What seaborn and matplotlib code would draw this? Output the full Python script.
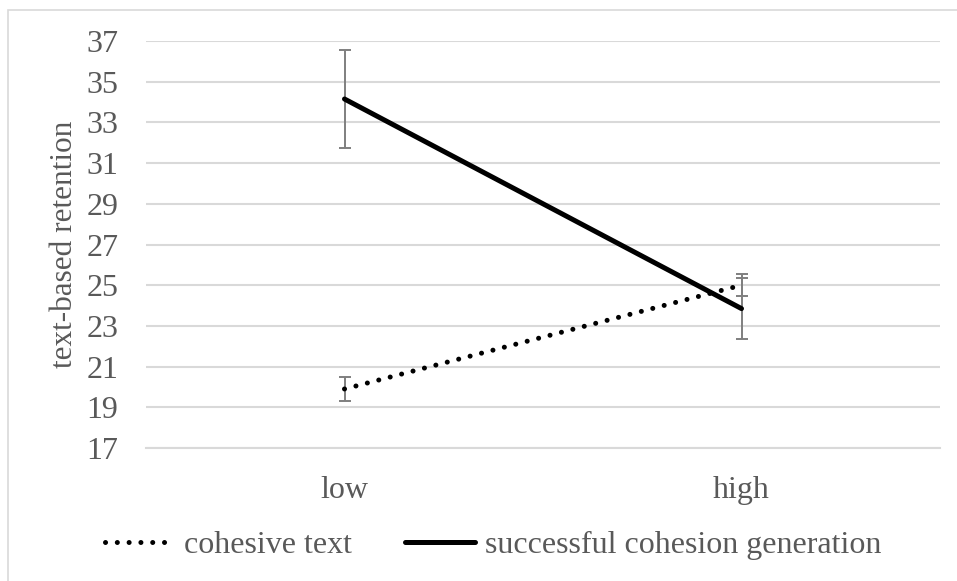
import numpy as np
import pandas as pd
import matplotlib
matplotlib.use("Agg")
import matplotlib.pyplot as plt
import seaborn as sns
from matplotlib.patches import Rectangle

# data
levels = ["low", "high"]
cohesive_mean = [19.9, 25.0]
cohesive_err = [0.6, 0.55]
generation_mean = [34.15, 23.85]
generation_err = [2.4, 1.5]
series_names = ["cohesive text", "successful cohesion generation"]
y_ticks = list(range(17, 38, 2))

TEXT = "#595959"
GRID = "#d9d9d9"
ERR = "#7f7f7f"

sns.set_theme(style="white")
plt.rcParams['font.family'] = ['Liberation Serif', 'DejaVu Serif']
plt.rcParams['font.size'] = 23

df = pd.DataFrame({
    "level": levels * 2,
    "value": cohesive_mean + generation_mean,
    "series": [series_names[0]] * 2 + [series_names[1]] * 2,
})

fig = plt.figure(figsize=(9.57, 5.81), dpi=100)
ax = fig.add_axes([146 / 957, 1 - 448 / 581, 794 / 957, 407 / 581])

# error bars underneath the lines
ax.errorbar(levels, cohesive_mean, yerr=cohesive_err, fmt='none', ecolor=ERR,
            elinewidth=1.4, capsize=4.2, capthick=1.4, zorder=2)
ax.errorbar(levels, generation_mean, yerr=generation_err, fmt='none', ecolor=ERR,
            elinewidth=1.4, capsize=4.2, capthick=1.4, zorder=2)

sns.lineplot(data=df, x="level", y="value", hue="series", style="series",
             palette=["black", "black"], dashes=[(0.01, 2.35), ""],
             linewidth=3.6, ax=ax, legend=False, zorder=3)
for ln in ax.get_lines():
    ln.set_dash_capstyle('round')
    ln.set_solid_capstyle('round')

ax.set_xlim(-0.5, 1.5)
ax.set_ylim(17, 37)
ax.set_yticks(y_ticks)
ax.set_xticks([-0.5, 0.5, 1.5], minor=True)
ax.yaxis.grid(True, color=GRID, linewidth=1.5)
ax.xaxis.grid(False)
for side in ["top", "right", "left"]:
    ax.spines[side].set_visible(False)
ax.spines["bottom"].set_color(GRID)
ax.spines["bottom"].set_linewidth(1.5)
ax.tick_params(axis='y', length=0, pad=20, colors=TEXT, labelsize=23)
ax.tick_params(axis='x', which='major', length=0, pad=20, colors=TEXT, labelsize=23)
ax.tick_params(axis='x', which='minor', length=6.5, width=1.5, color=GRID, direction='out')
ax.set_xlabel("")
ax.set_ylabel("text-based retention", color=TEXT, fontsize=22.5, labelpad=5)

# legend at the bottom of the figure
h1 = plt.Line2D([], [], color="black", linewidth=3.6, linestyle=(0, (0.01, 2.35)),
                dash_capstyle='round')
h2 = plt.Line2D([], [], color="black", linewidth=3.6, solid_capstyle='round')
fig.legend([h1, h2], series_names, loc='center', bbox_to_anchor=(493 / 957, 1 - 545 / 581),
           ncol=2, frameon=False, handlelength=2.2, handletextpad=0.3,
           columnspacing=1.65, labelcolor=TEXT, fontsize=23)

# chart border
fig.patches.append(Rectangle((8 / 957, -0.05), 1.2, 1 - 10 / 581 + 0.05,
                             transform=fig.transFigure, fill=False,
                             edgecolor=GRID, linewidth=1.2))

fig.savefig("out.png", dpi=100)
